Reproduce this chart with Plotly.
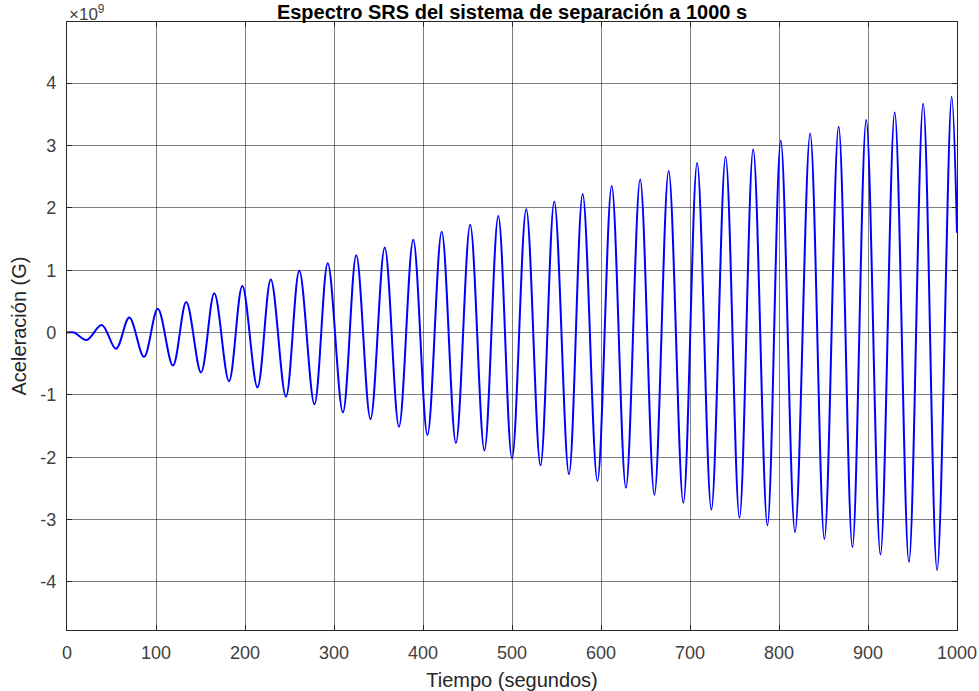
import plotly.graph_objects as go

# tiempos (s) y valores (x1e9 G)
t_inicio = [0, 8]
a_inicio = [0.0, 0.0]

t_picos = [39, 70, 102, 134, 165.5, 197, 229, 261, 293, 325, 357, 389, 421, 453,
           484.6, 516, 547.5, 579.4, 612, 644, 676, 708, 740, 771, 802, 835, 867,
           898, 930, 962, 994]
a_picos = [0.12, 0.24, 0.38, 0.49, 0.63, 0.745, 0.85, 0.99, 1.11, 1.24, 1.365, 1.49,
           1.615, 1.73, 1.87, 1.98, 2.10, 2.22, 2.35, 2.455, 2.59, 2.72, 2.82, 2.94,
           3.08, 3.19, 3.30, 3.41, 3.53, 3.67, 3.78]

t_valles = [22, 55, 86.5, 119, 150.6, 182, 214, 246, 278, 310, 341, 373, 405, 437,
            469, 500, 532, 564, 596, 628, 660, 692.5, 724, 755.6, 787, 818, 851,
            882.5, 914, 946, 977.6]
a_valles = [-0.12, -0.26, -0.39, -0.53, -0.64, -0.78, -0.88, -1.03, -1.15, -1.28,
            -1.39, -1.51, -1.64, -1.77, -1.89, -2.02, -2.13, -2.27, -2.38, -2.49,
            -2.60, -2.73, -2.84, -2.97, -3.09, -3.20, -3.31, -3.44, -3.56, -3.68, -3.81]

t_final = [1000]
a_final = [1.6]

x_ticks = list(range(0, 1001, 100))
y_ticks = [-4, -3, -2, -1, 0, 1, 2, 3, 4]
y_ticktext = ["-4", "-3", "-2", "-1", "0", "1", "2", "3", "4"]

# serie completa ordenada en el tiempo: inicio, valle/pico alternados, final
t = list(t_inicio)
a = list(a_inicio)
for tv, av, tp, ap in zip(t_valles, a_valles, t_picos, a_picos):
    t += [tv, tp]
    a += [av, ap]
t += t_final
a += a_final

FONT = "Liberation Sans, Arial, Helvetica, sans-serif"

fig = go.Figure(go.Scatter(
    x=t, y=a,
    mode="lines",
    line=dict(color="#0000FF", width=2, shape="spline", smoothing=1.0),
    showlegend=False,
))

eje = dict(
    showline=True, linecolor="#262626", linewidth=1.3, mirror="ticks",
    ticks="inside", ticklen=5, tickcolor="#262626",
    showgrid=True, gridcolor="rgba(0,0,0,0.5)", gridwidth=1,
    zeroline=False, automargin=False,
    tickfont=dict(family=FONT, size=18, color="#404040"),
)

fig.update_xaxes(eje, range=[0, 1000], tickvals=x_ticks, ticklabelstandoff=6,
                 title=dict(text="Tiempo (segundos)", standoff=14,
                            font=dict(family=FONT, size=20, color="#262626")))
fig.update_yaxes(eje, range=[-4.77, 4.98], tickvals=y_ticks, ticktext=y_ticktext,
                 ticklabelstandoff=6,
                 title=dict(text="Aceleración (G)", standoff=8,
                            font=dict(family=FONT, size=20, color="#262626")))

fig.update_layout(
    width=979, height=691,
    margin=dict(l=67, r=22, t=22, b=61, autoexpand=False),
    paper_bgcolor="white", plot_bgcolor="white",
    title=dict(text="<b>Espectro SRS del sistema de separación a 1000 s</b>",
               x=0.523, xanchor="center", y=0.983, yanchor="middle",
               font=dict(family=FONT, size=20, color="#000000")),
    annotations=[dict(
        text="×10<sup>9</sup>", xref="paper", yref="paper", x=0, y=1,
        xanchor="left", yanchor="bottom", showarrow=False, yshift=-4,
        font=dict(family=FONT, size=17, color="#404040"),
    )],
)

# sin margen del body para que la figura ocupe la ventana completa
fig.write_html("out.html", config={"displayModeBar": False},
               post_script="document.body.style.margin='0';")
